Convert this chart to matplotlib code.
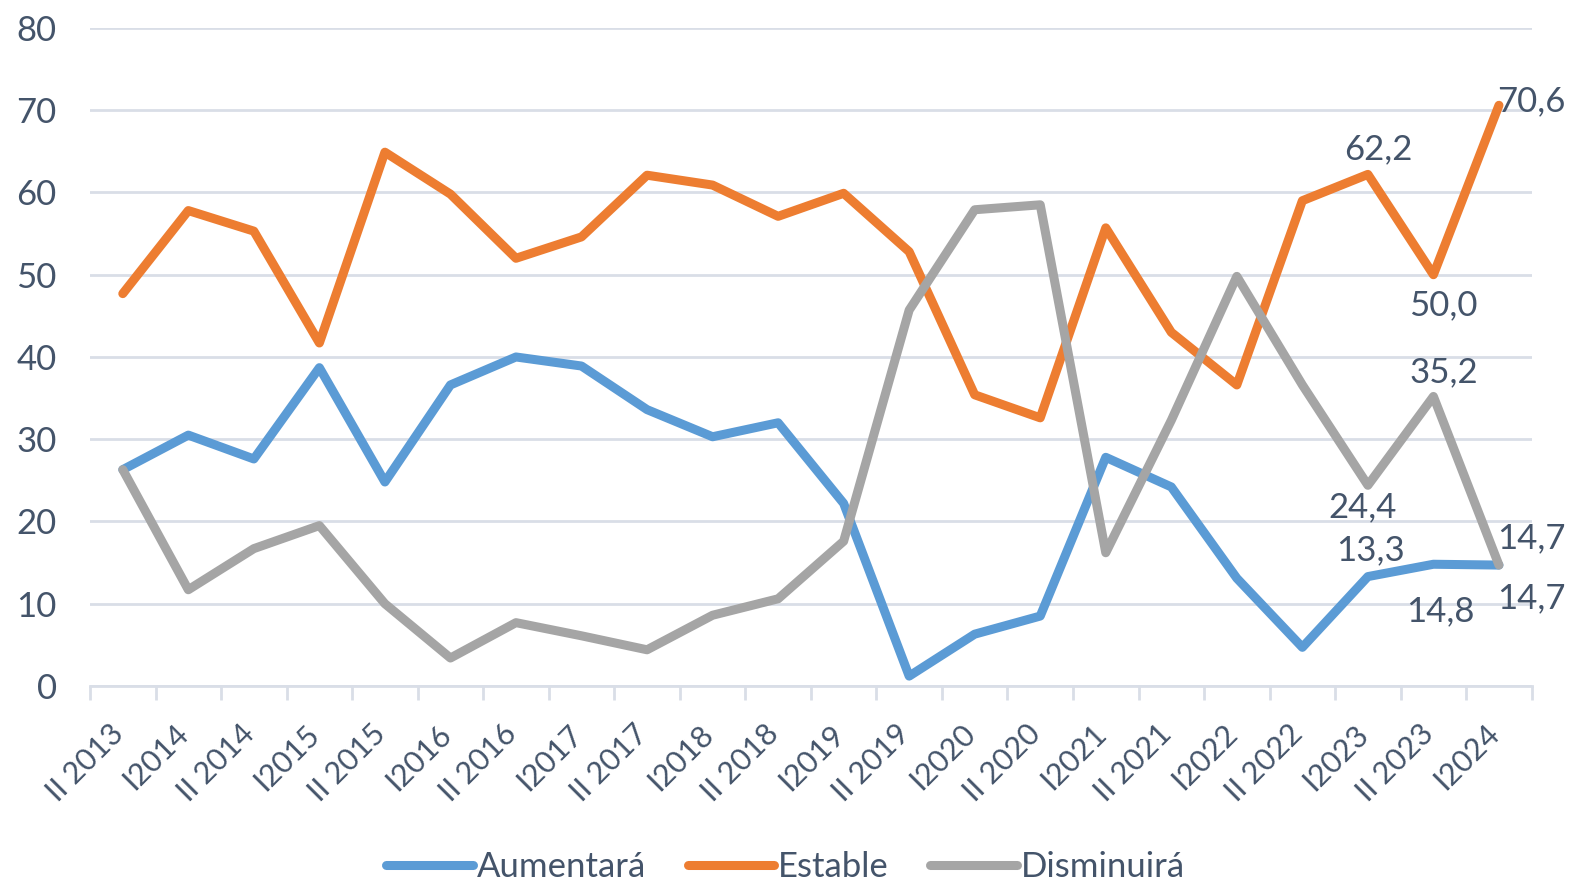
import matplotlib
matplotlib.use("Agg")
import matplotlib.pyplot as plt
import matplotlib.transforms as mtransforms
import numpy as np

categories = ["II 2013", "I2014", "II 2014", "I2015", "II 2015", "I2016", "II 2016", "I2017",
              "II 2017", "I2018", "II 2018", "I2019", "II 2019", "I2020", "II 2020", "I2021",
              "II 2021", "I2022", "II 2022", "I2023", "II 2023", "I2024"]
aumentara = [26.3, 30.5, 27.6, 38.7, 24.8, 36.6, 40.0, 38.9, 33.6, 30.3, 32.0, 22.2,
             1.2, 6.3, 8.5, 27.8, 24.2, 13.1, 4.7, 13.3, 14.8, 14.7]
estable = [47.7, 57.8, 55.3, 41.7, 64.9, 59.8, 52.0, 54.6, 62.1, 60.9, 57.1, 59.9,
           52.8, 35.4, 32.6, 55.7, 43.0, 36.6, 59.0, 62.2, 50.0, 70.6]
disminuira = [26.3, 11.7, 16.7, 19.5, 10.0, 3.4, 7.7, 6.1, 4.4, 8.6, 10.6, 17.6,
              45.7, 57.9, 58.5, 16.2, 32.3, 49.8, 36.6, 24.4, 35.2, 14.7]
series_names = ["Aumentará", "Estable", "Disminuirá"]

TXT = "#44546A"
GRID = "#D9DEE7"
colors = ["#5B9BD5", "#ED7D31", "#A5A5A5"]

plt.rcParams['font.family'] = ['Lato', 'DejaVu Sans']

fig = plt.figure(figsize=(15.71, 8.88), dpi=100)
ax = fig.add_axes([0.0573, 0.2275, 0.9177, 0.741])

x = np.arange(len(categories))
for vals, name, c in zip([aumentara, estable, disminuira], series_names, colors):
    ax.plot(x, vals, color=c, lw=6.5, label=name, solid_capstyle='round', solid_joinstyle='round')

ax.set_xlim(-0.5, len(categories) - 0.5)
ax.set_ylim(0, 80)
ax.set_yticks(np.arange(0, 81, 10))
ax.yaxis.grid(True, color=GRID, lw=2)
ax.set_axisbelow(True)
for s in ["top", "right", "left"]:
    ax.spines[s].set_visible(False)
ax.spines["bottom"].set_color(GRID)
ax.spines["bottom"].set_linewidth(2)

ax.tick_params(axis='y', length=0, labelsize=25, labelcolor=TXT, pad=24)
ax.set_xticks(x)
ax.set_xticklabels(categories, rotation=45, ha='right', rotation_mode='anchor')
ax.tick_params(axis='x', which='major', length=0, labelsize=22, labelcolor=TXT, pad=24)
shift = mtransforms.ScaledTranslation(-14 / 100, 0, fig.dpi_scale_trans)
for t in ax.get_xticklabels():
    t.set_transform(t.get_transform() + shift)
ax.set_xticks(np.arange(-0.5, len(categories), 1), minor=True)
ax.tick_params(axis='x', which='minor', length=10, width=2, color=GRID)

# data labels
def lab(i, v, dx, dy, ha='center'):
    ax.annotate(f"{v:.1f}".replace('.', ','), (i, v), xytext=(dx, dy), textcoords='offset pixels',
                ha=ha, va='center', fontsize=25, color=TXT)

i23, ii23, i24 = 19, 20, 21
lab(i23, estable[i23], 10, 25)
lab(ii23, estable[ii23], 10, -31)
lab(i24, estable[i24], -2, 4, ha='left')
lab(ii23, disminuira[ii23], 10, 24)
lab(i23, disminuira[i23], -5, -22)
lab(i24, disminuira[i24], -2, 27, ha='left')
lab(i23, aumentara[i23], 3, 26)
lab(ii23, aumentara[ii23], 7, -47)
lab(i24, aumentara[i24], -2, -33, ha='left')

leg = fig.legend(loc='lower center', bbox_to_anchor=(0.5, -0.03), ncol=3, frameon=False,
                 fontsize=25, handlelength=2.5, handletextpad=0.1, columnspacing=1.2)
for t in leg.get_texts():
    t.set_color(TXT)

fig.savefig("out.png", dpi=100)
